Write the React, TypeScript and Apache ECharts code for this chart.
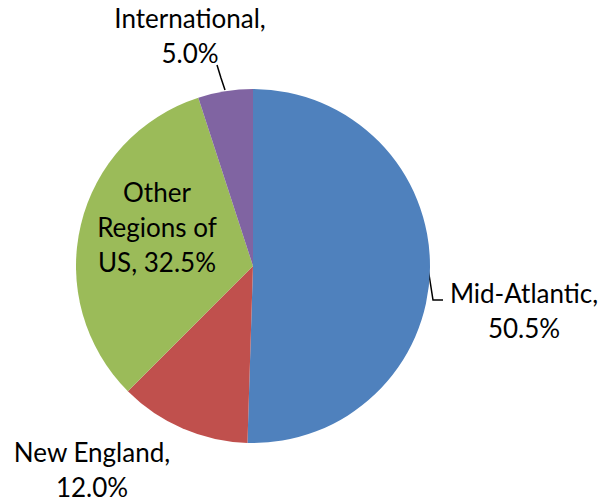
import React, { useEffect, useRef } from "react";
import * as echarts from "echarts";

const categories = ["Mid-Atlantic", "New England", "Other Regions of US", "International"];
const shares = [50.5, 12.0, 32.5, 5.0];
const colors = ["#4F81BD", "#C0504D", "#9BBB59", "#8064A2"];

// label placement (layout only)
const labelPos: { x: number; y: number; line?: number[][] }[] = [
  { x: 524, y: 310, line: [[428, 268], [433, 300], [443, 300]] },
  { x: 92, y: 469 },
  { x: 157, y: 227 },
  { x: 190, y: 35, line: [[225, 90], [221, 78], [217, 65]] },
];

export default function App() {
  const ref = useRef<HTMLDivElement>(null);
  useEffect(() => {
    if (!ref.current) return;
    const chart = echarts.init(ref.current, undefined, { renderer: "svg" });
    chart.setOption({
      animation: false,
      backgroundColor: "#ffffff",
      series: [
        {
          type: "pie",
          center: [253, 266],
          radius: 177,
          startAngle: 90,
          clockwise: true,
          avoidLabelOverlap: false,
          itemStyle: { borderWidth: 0 },
          emphasis: { disabled: true },
          label: {
            show: true,
            position: "outside",
            color: "#000",
            fontFamily: "Lato, 'Noto Sans', sans-serif",
            fontSize: 26,
            lineHeight: 35,
            align: "center",
            formatter: (p: any) => {
              const v = p.value.toFixed(1) + "%";
              if (p.dataIndex === 2) {
                return p.name.replace("Other ", "Other\n").replace(" of US", " of\nUS") + ", " + v;
              }
              return p.name + ",\n" + v;
            },
          },
          labelLine: {
            show: true,
            lineStyle: { color: "#000", width: 1.5 },
          },
          labelLayout: (params: any) => {
            const lp = labelPos[params.dataIndex];
            const out: any = {
              x: lp.x,
              y: lp.y,
              align: "center",
              verticalAlign: "middle",
            };
            if (lp.line) out.labelLinePoints = lp.line;
            return out;
          },
          data: categories.map((c, i) => ({
            name: c,
            value: shares[i],
            itemStyle: { color: colors[i] },
            label: i === 2 ? { position: "inside" } : undefined,
            labelLine: i === 0 || i === 3 ? { show: true } : { show: false },
          })),
        },
      ],
    });
    return () => chart.dispose();
  }, []);
  return (
    <div
      ref={ref}
      style={{ position: "fixed", left: 0, top: 0, width: 606, height: 504 }}
    />
  );
}
